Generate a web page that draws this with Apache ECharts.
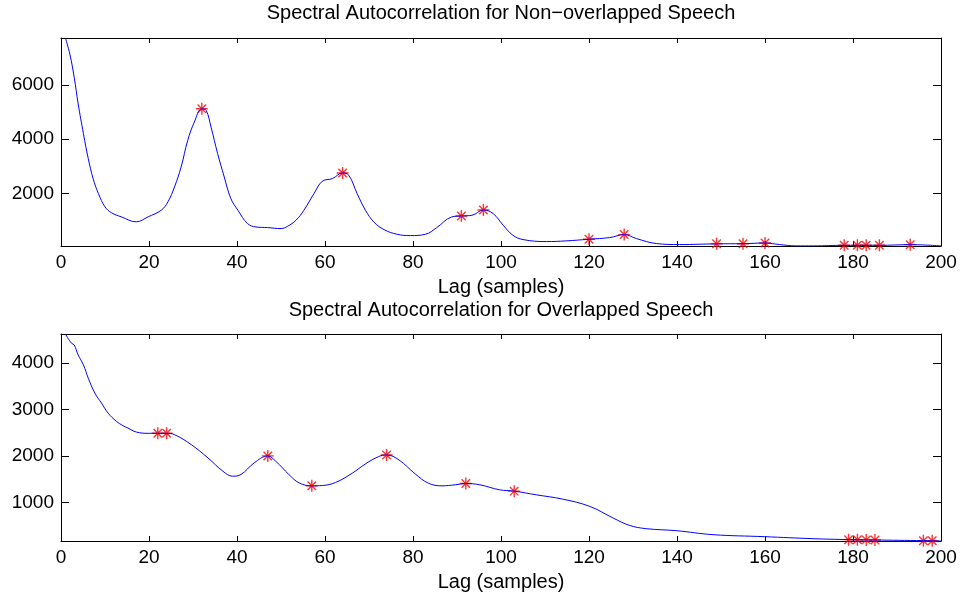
<!DOCTYPE html>
<html><head><meta charset="utf-8">
<script src="https://cdn.jsdelivr.net/npm/echarts@6/dist/echarts.min.js"></script>
<style>html,body{margin:0;padding:0;background:#fff}#c{width:964px;height:599px}</style>
</head><body><div id="c"></div>
<script>
// ---- data ----
const topLag   = [1,2,3,3.9,5.1,6.2,7.3,8.5,10,11.5,13.7,17.1,19.8,22.8,24.3,25.8,27.3,28.8,30.3,32,33,34.1,35.6,37.1,38.6,40.2,42.4,44.3,46.9,50,51.5,53.4,55.2,57.5,59.4,61.7,64,65.4,67.3,69.2,71.1,73.4,76.4,79.4,82.8,85.4,88.8,91,93.4,96,98.2,100.5,102.7,105,110.3,114.8,120,124.7,128,130.8,135.3,140.6,149,155,160,163.3,167.1,170.9,178,181,183,186,193,200];
const topValue = [7725,7138,6281,5303,4202,3284,2550,2000,1511,1291,1144,960,1144,1389,1695,2245,2979,3957,4630,5120,5058,4447,3468,2612,1817,1389,895,770,748,711,797,1017,1385,2000,2453,2552,2759,2674,2000,1385,954,674,501,453,501,748,1138,1175,1201,1395,1264,834,466,307,233,258,320,380,490,343,160,123,150,155,180,123,74,74,95,95,95,95,120,74];
const topPeakLag   = [32,64,91,96,120,128,149,155,160,178,181,183,186,193];
const topPeakValue = [5120,2759,1175,1395,320,490,150,155,180,95,95,95,95,120];

const botLag   = [1,2.4,3,3.9,5.1,6.2,7.7,9.2,10.7,12.6,14.1,15.2,17.1,19.8,22,24,25.8,29.6,33.4,36.8,39,40.9,43.9,47,48.8,51.8,54.1,57,59.4,62.4,66.2,69.2,72.2,74,76.8,80.5,83.5,86.6,89.6,92,95.2,99.7,103,108,114,120.2,125.5,129.2,133,139.8,148.2,159.9,170.9,179,181,183,185,196,198,200];
const botValue = [4621,4421,4386,4171,3957,3671,3350,3136,2921,2743,2650,2600,2514,2486,2486,2486,2457,2243,1957,1671,1564,1600,1850,2000,1886,1600,1421,1357,1364,1429,1629,1829,1986,2021,1914,1614,1414,1357,1379,1407,1379,1271,1243,1164,1071,914,664,507,436,393,307,264,221,200,197,195,193,178,175,171];
const botPeakLag   = [22,24,47,57,74,92,103,179,181,183,185,196,198];
const botPeakValue = [2486,2486,2000,1357,2021,1407,1243,200,197,195,193,178,175];

const xTicks    = [0,20,40,60,80,100,120,140,160,180,200];
const topYTicks = [2000,4000,6000];
const botYTicks = [1000,2000,3000,4000];
const topYRange = [70, 7725];
const botYRange = [171, 4621];
const xRange    = [0, 200];
const titles = ['Spectral Autocorrelation for Non\u2212overlapped Speech', 'Spectral Autocorrelation for Overlapped Speech'];
const xLabel = 'Lag (samples)';

// ---- chart ----
const FONT = '"Liberation Sans", Arial, Helvetica, sans-serif';
const pairs = (xs, ys) => xs.map((x, i) => [x, ys[i]]);
const asterisk = 'path://M0,-1L0,1M-1,0L1,0M-0.7071,-0.7071L0.7071,0.7071M-0.7071,0.7071L0.7071,-0.7071';
const lineBlack = {color:'#000', width:1};
const plain = v => String(v);

function xAxes(gi) {
  const base = {type:'value', gridIndex:gi, min:xRange[0], max:xRange[1], interval:20,
    axisLine:{onZero:false, lineStyle:lineBlack}, splitLine:{show:false},
    axisTick:{inside:true, length:5, lineStyle:lineBlack}};
  return [
    Object.assign({}, base, {position:'bottom',
      axisLabel:{color:'#000', fontSize:19, fontFamily:FONT, margin:7, customValues:xTicks, formatter:plain}}),
    Object.assign({}, base, {position:'top', axisLabel:{show:false}})
  ];
}
function yAxes(gi, range, ticks) {
  const base = {type:'value', gridIndex:gi, min:range[0], max:range[1],
    axisLine:{onZero:false, lineStyle:lineBlack}, splitLine:{show:false},
    axisTick:{inside:true, length:8, lineStyle:lineBlack, customValues:ticks}};
  return [
    Object.assign({}, base, {position:'left',
      axisLabel:{color:'#000', fontSize:19, fontFamily:FONT, margin:7, customValues:ticks, formatter:plain}}),
    Object.assign({}, base, {position:'right', axisLabel:{show:false}})
  ];
}
function textTitle(text, top) {
  return {text, left:501, top, textAlign:'center', padding:0,
    textStyle:{fontSize:20, fontWeight:'normal', color:'#000', fontFamily:FONT}};
}

const chart = echarts.init(document.getElementById('c'), null, {renderer:'canvas'});
chart.setOption({
  backgroundColor:'#fff',
  animation:false,
  title:[textTitle(titles[0], 3), textTitle(xLabel, 277), textTitle(titles[1], 300), textTitle(xLabel, 572)],
  grid:[
    {left:61, top:38, width:880, height:208},
    {left:61, top:334, width:880, height:207}
  ],
  xAxis:[...xAxes(0), ...xAxes(1)],
  yAxis:[...yAxes(0, topYRange, topYTicks), ...yAxes(1, botYRange, botYTicks)],
  series:[
    {type:'line', xAxisIndex:0, yAxisIndex:0, data:pairs(topLag, topValue), showSymbol:false,
      smooth:0.4, lineStyle:{color:'#0000ff', width:1}, clip:true},
    {type:'scatter', xAxisIndex:0, yAxisIndex:0, data:pairs(topPeakLag, topPeakValue),
      symbol:asterisk, symbolSize:12, itemStyle:{color:'none', borderColor:'#ff0000', borderWidth:1.4}, clip:false},
    {type:'line', xAxisIndex:2, yAxisIndex:2, data:pairs(botLag, botValue), showSymbol:false,
      smooth:0.4, lineStyle:{color:'#0000ff', width:1}, clip:true},
    {type:'scatter', xAxisIndex:2, yAxisIndex:2, data:pairs(botPeakLag, botPeakValue),
      symbol:asterisk, symbolSize:12, itemStyle:{color:'none', borderColor:'#ff0000', borderWidth:1.4}, clip:false}
  ]
});
</script></body></html>
